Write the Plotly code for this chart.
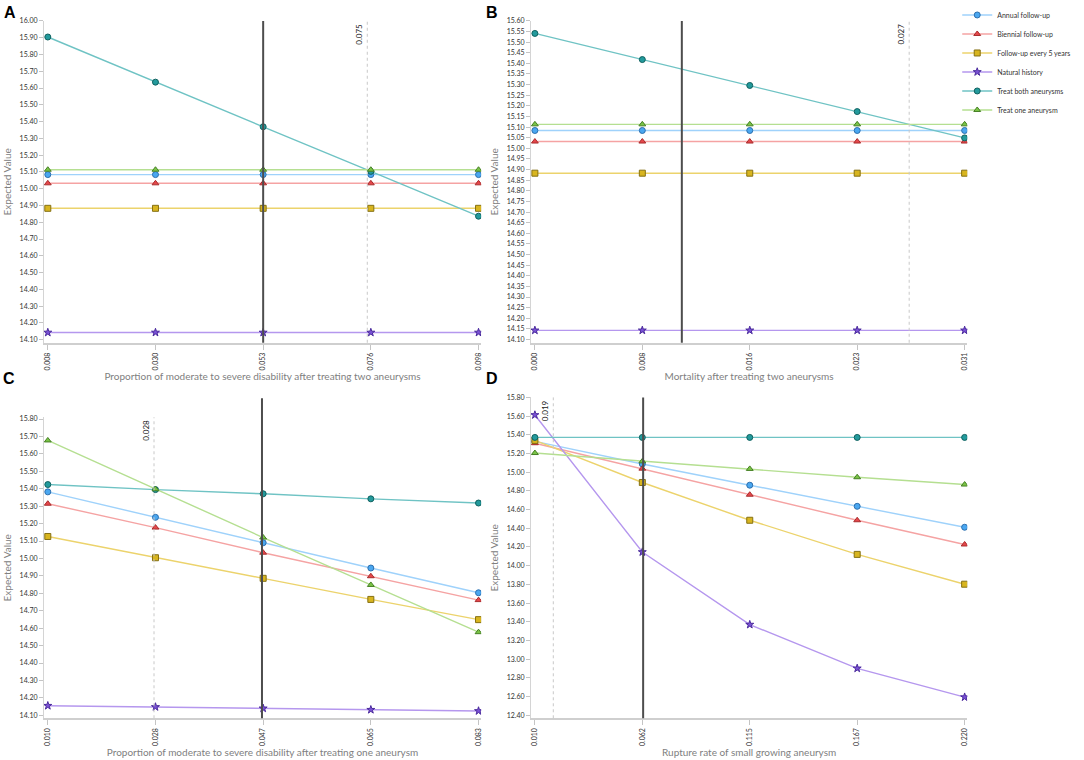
import plotly.graph_objects as go

# strategies (legend order)
strategies = ["Annual follow-up", "Biennial follow-up", "Follow-up every 5 years",
              "Natural history", "Treat both aneurysms", "Treat one aneurysm"]

# panel A: proportion of moderate to severe disability after treating two aneurysms
x_a = [0.0075, 0.03025, 0.053, 0.07575, 0.0985]
ticks_a = ["0.008", "0.030", "0.053", "0.076", "0.098"]
annual_a = [15.084, 15.084, 15.084, 15.084, 15.084]
biennial_a = [15.032, 15.032, 15.032, 15.032, 15.032]
five_a = [14.883, 14.883, 14.883, 14.883, 14.883]
natural_a = [14.143, 14.143, 14.143, 14.143, 14.143]
both_a = [15.904, 15.635, 15.369, 15.103, 14.836]
one_a = [15.113, 15.113, 15.113, 15.113, 15.113]

# panel B: mortality after treating two aneurysms
x_b = [0.0, 0.00775, 0.0155, 0.02325, 0.031]
ticks_b = ["0.000", "0.008", "0.016", "0.023", "0.031"]
annual_b = [15.084, 15.084, 15.084, 15.084, 15.084]
biennial_b = [15.032, 15.032, 15.032, 15.032, 15.032]
five_b = [14.883, 14.883, 14.883, 14.883, 14.883]
natural_b = [14.143, 14.143, 14.143, 14.143, 14.143]
both_b = [15.541, 15.418, 15.296, 15.173, 15.049]
one_b = [15.113, 15.113, 15.113, 15.113, 15.113]

# panel C: proportion of moderate to severe disability after treating one aneurysm
x_c = [0.010, 0.02825, 0.0465, 0.06475, 0.083]
ticks_c = ["0.010", "0.028", "0.047", "0.065", "0.083"]
annual_c = [15.382, 15.236, 15.090, 14.945, 14.803]
biennial_c = [15.314, 15.177, 15.033, 14.898, 14.761]
five_c = [15.126, 15.004, 14.886, 14.765, 14.649]
natural_c = [14.155, 14.148, 14.140, 14.132, 14.125]
both_c = [15.424, 15.395, 15.371, 15.342, 15.318]
one_c = [15.677, 15.397, 15.120, 14.848, 14.577]

# panel D: rupture rate of small growing aneurysm
x_d = [0.010, 0.0625, 0.115, 0.1675, 0.220]
ticks_d = ["0.010", "0.062", "0.115", "0.167", "0.220"]
annual_d = [15.330, 15.088, 14.861, 14.635, 14.411]
biennial_d = [15.310, 15.038, 14.759, 14.486, 14.227]
five_d = [15.340, 14.890, 14.486, 14.121, 13.802]
natural_d = [15.612, 14.146, 13.370, 12.902, 12.594]
both_d = [15.372, 15.372, 15.372, 15.372, 15.372]
one_d = [15.205, 15.116, 15.035, 14.946, 14.868]

# base case (solid line) and threshold (dotted line) per panel
base_case = [0.053, 0.0106, 0.0463, 0.0629]
thresholds = [0.075, 0.027, 0.028, 0.019]
threshold_labels = ["0.075", "0.027", "0.028", "0.019"]

x_titles = ["Proportion of moderate to severe disability after treating two aneurysms",
            "Mortality after treating two aneurysms",
            "Proportion of moderate to severe disability after treating one aneurysm",
            "Rupture rate of small growing aneurysm"]

line_colors = ["#9fd2fb", "#f5a3a3", "#ecd36c", "#b597ee", "#6fc3c4", "#b5df91"]
marker_colors = ["#4aa7f0", "#e5474b", "#d8b51f", "#7a51d6", "#239a9c", "#7ac446"]
edge_colors = ["#2d6fae", "#a82c2c", "#857013", "#4a2a9c", "#10615f", "#457f24"]
symbols = ["circle", "triangle-up", "square", "star", "circle", "triangle-up"]
sizes = [6, 6, 6, 6, 6, 6]

panels = [
    dict(x=x_a, ticks=ticks_a, vals=[annual_a, biennial_a, five_a, natural_a, both_a, one_a],
         xdom=[43, 481], ydom=[16, 340], yr=[14.0818, 16.0], tick0=14.1, dtick=0.1, top=1.0),
    dict(x=x_b, ticks=ticks_b, vals=[annual_b, biennial_b, five_b, natural_b, both_b, one_b],
         xdom=[531, 968], ydom=[16, 340], yr=[14.0846, 15.6], tick0=14.1, dtick=0.05, top=1.0),
    dict(x=x_c, ticks=ticks_c, vals=[annual_c, biennial_c, five_c, natural_c, both_c, one_c],
         xdom=[43, 481], ydom=[415, 718], yr=[14.083, 15.81], tick0=14.1, dtick=0.1, top=1.063),
    dict(x=x_d, ticks=ticks_d, vals=[annual_d, biennial_d, five_d, natural_d, both_d, one_d],
         xdom=[531, 968], ydom=[395, 718], yr=[12.368, 15.8], tick0=12.4, dtick=0.2, top=1.0),
]

W, H = 1084, 760
FONT = "Lato"
letters = ["A", "B", "C", "D"]
letter_pos = [(1, 0), (484, 0), (0, 368), (484, 368)]

fig = go.Figure()
layout = {}
shapes = []
annotations = []

for i, p in enumerate(panels):
    n = "" if i == 0 else str(i + 1)
    for k, name in enumerate(strategies):
        fig.add_trace(go.Scatter(
            x=p["x"], y=p["vals"][k], name=name, mode="lines+markers",
            line=dict(color=line_colors[k], width=1.4),
            marker=dict(symbol=symbols[k], size=sizes[k], color=marker_colors[k],
                        line=dict(color=edge_colors[k], width=1)),
            xaxis="x" + n, yaxis="y" + n, legendgroup=name, showlegend=(i == 0)))

    span = p["x"][-1] - p["x"][0]
    layout["xaxis" + n] = dict(
        domain=[p["xdom"][0] / W, p["xdom"][1] / W], anchor="y" + n,
        range=[p["x"][0] - 0.009 * span, p["x"][-1] + 0.006 * span],
        tickvals=p["x"], ticktext=p["ticks"], tickangle=-90,
        ticks="outside", ticklen=5, tickcolor="#c4c4c4",
        showline=True, linecolor="#cfcfcf", linewidth=2,
        showgrid=False, zeroline=False,
        tickfont=dict(size=7, color="#333333", family=FONT),
        title=dict(text=x_titles[i], standoff=1, font=dict(size=10, color="#808080", family=FONT)))
    layout["yaxis" + n] = dict(
        domain=[1 - p["ydom"][1] / H, 1 - p["ydom"][0] / H], anchor="x" + n,
        range=p["yr"], tick0=p["tick0"], dtick=p["dtick"], tickformat=".2f",
        ticks="outside", ticklen=4, tickcolor="#c4c4c4",
        showline=True, linecolor="#d4d4d4", linewidth=1,
        showgrid=False, zeroline=False,
        tickfont=dict(size=7, color="#333333", family=FONT),
        title=dict(text="Expected Value", standoff=6, font=dict(size=10, color="#808080", family=FONT)))

    shapes.append(dict(type="line", xref="x" + n, yref="y" + n + " domain",
                       x0=base_case[i], x1=base_case[i], y0=0, y1=p["top"],
                       line=dict(color="#4d4d4d", width=2)))
    shapes.append(dict(type="line", xref="x" + n, yref="y" + n + " domain",
                       x0=thresholds[i], x1=thresholds[i], y0=0, y1=1,
                       line=dict(color="#c8c8c8", width=1, dash="dot")))
    annotations.append(dict(x=thresholds[i], y=1, xref="x" + n, yref="y" + n + " domain",
                            text=threshold_labels[i], textangle=-90, showarrow=False,
                            xanchor="right", yanchor="top", xshift=-1, yshift=-1,
                            font=dict(size=8, color="#222222", family=FONT)))
    annotations.append(dict(x=letter_pos[i][0] / W, y=1 - letter_pos[i][1] / H,
                            xref="paper", yref="paper", text="<b>" + letters[i] + "</b>",
                            showarrow=False, xanchor="left", yanchor="top", yshift=3,
                            font=dict(size=16, color="#000000", family="Liberation Sans")))

fig.update_layout(
    width=W, height=H,
    margin=dict(l=0, r=0, t=0, b=0),
    paper_bgcolor="white", plot_bgcolor="white",
    font=dict(family=FONT),
    shapes=shapes, annotations=annotations,
    legend=dict(x=958 / W, y=1.006, xanchor="left", yanchor="top",
                font=dict(size=7, color="#333333", family=FONT),
                bgcolor="rgba(0,0,0,0)", tracegroupgap=0, itemwidth=30),
    **layout)

# drop the browser's default body margin so the figure sits at the page corner
fig.write_html("out.html", config={"displayModeBar": False},
               post_script="document.body.style.margin = '0';")
